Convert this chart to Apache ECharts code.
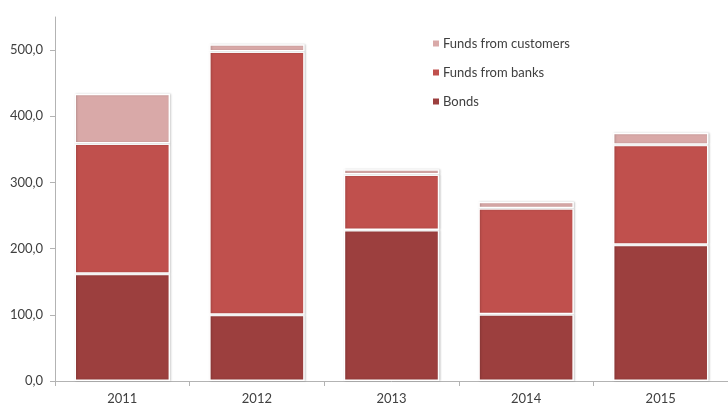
<!DOCTYPE html>
<html>
<head>
<meta charset="utf-8">
<script src="https://cdn.jsdelivr.net/npm/echarts@6/dist/echarts.min.js"></script>
<style>
  html, body { margin: 0; padding: 0; background: #fff; }
  #chart { width: 728px; height: 405px; }
</style>
</head>
<body>
<div id="chart"></div>
<script>
// Funding structure by year (stacked)
const years = ['2011', '2012', '2013', '2014', '2015'];
const bonds = [162, 100, 228, 101, 206];
const fundsFromBanks = [197, 398, 84, 160, 151];
const fundsFromCustomers = [75, 11, 8, 10, 18];
const yTicks = [0, 100, 200, 300, 400, 500];

const seriesNames = ['Bonds', 'Funds from banks', 'Funds from customers'];
const seriesColors = ['#9c3f3e', '#c0504d', '#d9a9a8'];
const seriesValues = [bonds, fundsFromBanks, fundsFromCustomers];

const font = 'Lato, "Open Sans", sans-serif';

const chart = echarts.init(document.getElementById('chart'), null, { renderer: 'canvas' });

chart.setOption({
  animation: false,
  backgroundColor: '#ffffff',
  grid: { left: 55, top: 17, width: 678, height: 365, containLabel: false },
  legend: {
    orient: 'vertical',
    left: 426,
    top: 32,
    itemWidth: 8,
    itemHeight: 8,
    itemGap: 16,
    icon: 'rect',
    data: ['Funds from customers', 'Funds from banks', 'Bonds'],
    textStyle: { fontFamily: font, fontSize: 13, color: '#404040', padding: [0, 0, 0, -2] }
  },
  xAxis: {
    type: 'category',
    data: years,
    axisLine: { lineStyle: { color: '#b3b3b3', width: 1 } },
    axisTick: { show: true, alignWithLabel: false, length: 5, lineStyle: { color: '#b3b3b3' } },
    axisLabel: { fontFamily: font, fontSize: 13, color: '#404040', margin: 11 }
  },
  yAxis: {
    type: 'value',
    min: 0,
    max: 550,
    interval: 50,
    splitLine: { show: false },
    axisLine: { show: true, lineStyle: { color: '#b3b3b3', width: 1 } },
    axisTick: { show: true, length: 5, customValues: yTicks, lineStyle: { color: '#b3b3b3' } },
    axisLabel: {
      fontFamily: font, fontSize: 13, color: '#404040', margin: 12,
      customValues: yTicks,
      formatter: v => v.toFixed(1).replace('.', ',')
    }
  },
  series: seriesNames.map((name, i) => ({
    name,
    type: 'bar',
    stack: 'total',
    barWidth: '71%',
    data: seriesValues[i],
    itemStyle: {
      color: seriesColors[i],
      borderColor: '#ffffff',
      borderWidth: 1.5,
      shadowColor: 'rgba(0,0,0,0.18)',
      shadowBlur: 2,
      shadowOffsetX: 1,
      shadowOffsetY: 0
    }
  }))
});
</script>
</body>
</html>
